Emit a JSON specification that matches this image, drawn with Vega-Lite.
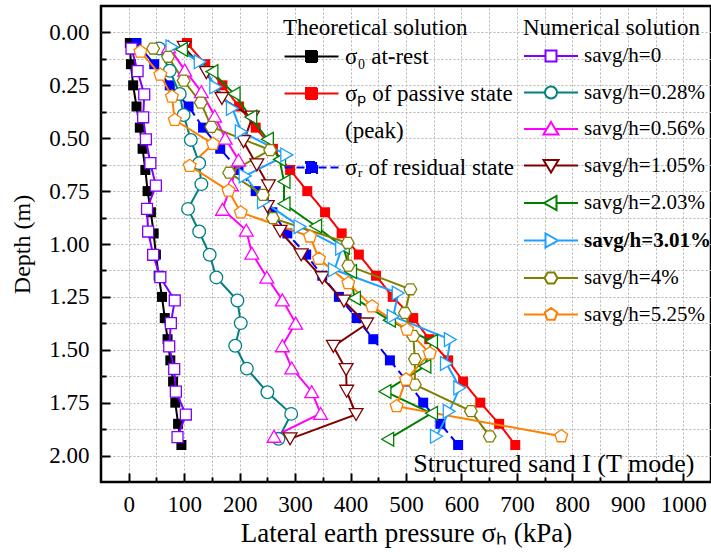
{
  "$schema": "https://vega.github.io/schema/vega-lite/v6.json",
  "width": 610,
  "height": 476,
  "autosize": {"type": "none"},
  "padding": {"left": 101, "top": 6, "right": 0, "bottom": 76},
  "background": "white",
  "config": {
    "font": "Liberation Serif, Times New Roman, serif",
    "view": {"stroke": "black", "strokeWidth": 2.5},
    "axis": {
      "domain": false,
      "grid": true,
      "gridColor": "#b4b4b4",
      "gridDash": [2, 2],
      "gridWidth": 1,
      "tickColor": "black",
      "tickWidth": 2,
      "labelFont": "Liberation Serif, Times New Roman, serif",
      "labelFontSize": 23,
      "labelColor": "black",
      "titleFont": "Liberation Serif, Times New Roman, serif",
      "titleFontSize": 24,
      "titleFontWeight": "normal",
      "titleColor": "black"
    },
    "legend": {
      "orient": "none",
      "titleFont": "Liberation Serif, Times New Roman, serif",
      "titleFontSize": 23,
      "titleFontWeight": "normal",
      "titleColor": "black",
      "titlePadding": 5,
      "titleLimit": 400,
      "labelFont": "Liberation Serif, Times New Roman, serif",
      "labelFontSize": 23,
      "labelColor": "black",
      "labelLimit": 400,
      "symbolSize": 400,
      "symbolOffset": 17,
      "labelOffset": 22,
      "rowPadding": 13,
      "padding": 0
    },
    "point": {"filled": false, "fill": "#ffffff", "fillOpacity": 1, "size": 150, "strokeWidth": 1.3, "opacity": 1}
  },
  "datasets": {
    "theo": [
      {"series": "σ₀ at-rest", "depth": 0.05, "pressure": 2},
      {"series": "σ₀ at-rest", "depth": 0.15, "pressure": 4},
      {"series": "σ₀ at-rest", "depth": 0.25, "pressure": 8},
      {"series": "σ₀ at-rest", "depth": 0.35, "pressure": 14},
      {"series": "σ₀ at-rest", "depth": 0.45, "pressure": 20},
      {"series": "σ₀ at-rest", "depth": 0.55, "pressure": 25},
      {"series": "σ₀ at-rest", "depth": 0.65, "pressure": 30},
      {"series": "σ₀ at-rest", "depth": 0.75, "pressure": 34},
      {"series": "σ₀ at-rest", "depth": 0.85, "pressure": 40},
      {"series": "σ₀ at-rest", "depth": 0.95, "pressure": 45},
      {"series": "σ₀ at-rest", "depth": 1.05, "pressure": 49},
      {"series": "σ₀ at-rest", "depth": 1.15, "pressure": 54},
      {"series": "σ₀ at-rest", "depth": 1.25, "pressure": 60},
      {"series": "σ₀ at-rest", "depth": 1.35, "pressure": 65},
      {"series": "σ₀ at-rest", "depth": 1.45, "pressure": 70},
      {"series": "σ₀ at-rest", "depth": 1.55, "pressure": 75},
      {"series": "σ₀ at-rest", "depth": 1.65, "pressure": 80},
      {"series": "σ₀ at-rest", "depth": 1.75, "pressure": 84},
      {"series": "σ₀ at-rest", "depth": 1.85, "pressure": 89},
      {"series": "σ₀ at-rest", "depth": 1.95, "pressure": 95},
      {"series": "σₚ of passive state", "depth": 0.05, "pressure": 105},
      {"series": "σₚ of passive state", "depth": 0.15, "pressure": 138},
      {"series": "σₚ of passive state", "depth": 0.25, "pressure": 169},
      {"series": "σₚ of passive state", "depth": 0.35, "pressure": 199},
      {"series": "σₚ of passive state", "depth": 0.45, "pressure": 229},
      {"series": "σₚ of passive state", "depth": 0.55, "pressure": 260},
      {"series": "σₚ of passive state", "depth": 0.65, "pressure": 291},
      {"series": "σₚ of passive state", "depth": 0.75, "pressure": 322},
      {"series": "σₚ of passive state", "depth": 0.85, "pressure": 354},
      {"series": "σₚ of passive state", "depth": 0.95, "pressure": 384},
      {"series": "σₚ of passive state", "depth": 1.05, "pressure": 415},
      {"series": "σₚ of passive state", "depth": 1.15, "pressure": 446},
      {"series": "σₚ of passive state", "depth": 1.25, "pressure": 476},
      {"series": "σₚ of passive state", "depth": 1.35, "pressure": 513},
      {"series": "σₚ of passive state", "depth": 1.45, "pressure": 542},
      {"series": "σₚ of passive state", "depth": 1.55, "pressure": 576},
      {"series": "σₚ of passive state", "depth": 1.65, "pressure": 603},
      {"series": "σₚ of passive state", "depth": 1.75, "pressure": 634},
      {"series": "σₚ of passive state", "depth": 1.85, "pressure": 668},
      {"series": "σₚ of passive state", "depth": 1.95, "pressure": 697},
      {"series": "σᵣ of residual state", "depth": 0.05, "pressure": 14},
      {"series": "σᵣ of residual state", "depth": 0.15, "pressure": 46},
      {"series": "σᵣ of residual state", "depth": 0.25, "pressure": 74},
      {"series": "σᵣ of residual state", "depth": 0.35, "pressure": 108},
      {"series": "σᵣ of residual state", "depth": 0.45, "pressure": 134},
      {"series": "σᵣ of residual state", "depth": 0.55, "pressure": 165},
      {"series": "σᵣ of residual state", "depth": 0.65, "pressure": 198},
      {"series": "σᵣ of residual state", "depth": 0.75, "pressure": 229},
      {"series": "σᵣ of residual state", "depth": 0.85, "pressure": 259},
      {"series": "σᵣ of residual state", "depth": 0.95, "pressure": 286},
      {"series": "σᵣ of residual state", "depth": 1.05, "pressure": 320},
      {"series": "σᵣ of residual state", "depth": 1.15, "pressure": 349},
      {"series": "σᵣ of residual state", "depth": 1.25, "pressure": 379},
      {"series": "σᵣ of residual state", "depth": 1.35, "pressure": 411},
      {"series": "σᵣ of residual state", "depth": 1.45, "pressure": 441},
      {"series": "σᵣ of residual state", "depth": 1.55, "pressure": 471},
      {"series": "σᵣ of residual state", "depth": 1.65, "pressure": 502},
      {"series": "σᵣ of residual state", "depth": 1.75, "pressure": 531},
      {"series": "σᵣ of residual state", "depth": 1.85, "pressure": 562},
      {"series": "σᵣ of residual state", "depth": 1.95, "pressure": 594}
    ],
    "num": [
      {"series": "savg/h=0", "depth": 0.076, "pressure": 5},
      {"series": "savg/h=0", "depth": 0.183, "pressure": 16},
      {"series": "savg/h=0", "depth": 0.293, "pressure": 28},
      {"series": "savg/h=0", "depth": 0.401, "pressure": 26},
      {"series": "savg/h=0", "depth": 0.505, "pressure": 31},
      {"series": "savg/h=0", "depth": 0.618, "pressure": 39},
      {"series": "savg/h=0", "depth": 0.724, "pressure": 49},
      {"series": "savg/h=0", "depth": 0.834, "pressure": 33},
      {"series": "savg/h=0", "depth": 0.941, "pressure": 35},
      {"series": "savg/h=0", "depth": 1.051, "pressure": 44},
      {"series": "savg/h=0", "depth": 1.157, "pressure": 57},
      {"series": "savg/h=0", "depth": 1.267, "pressure": 83},
      {"series": "savg/h=0", "depth": 1.374, "pressure": 76},
      {"series": "savg/h=0", "depth": 1.484, "pressure": 73},
      {"series": "savg/h=0", "depth": 1.591, "pressure": 82},
      {"series": "savg/h=0", "depth": 1.698, "pressure": 85},
      {"series": "savg/h=0", "depth": 1.806, "pressure": 103},
      {"series": "savg/h=0", "depth": 1.913, "pressure": 88},
      {"series": "savg/h=0.28%", "depth": 0.076, "pressure": 55},
      {"series": "savg/h=0.28%", "depth": 0.181, "pressure": 74},
      {"series": "savg/h=0.28%", "depth": 0.291, "pressure": 92},
      {"series": "savg/h=0.28%", "depth": 0.39, "pressure": 99},
      {"series": "savg/h=0.28%", "depth": 0.508, "pressure": 112},
      {"series": "savg/h=0.28%", "depth": 0.618, "pressure": 127},
      {"series": "savg/h=0.28%", "depth": 0.717, "pressure": 131},
      {"series": "savg/h=0.28%", "depth": 0.834, "pressure": 107},
      {"series": "savg/h=0.28%", "depth": 0.941, "pressure": 127},
      {"series": "savg/h=0.28%", "depth": 1.051, "pressure": 146},
      {"series": "savg/h=0.28%", "depth": 1.158, "pressure": 158},
      {"series": "savg/h=0.28%", "depth": 1.267, "pressure": 196},
      {"series": "savg/h=0.28%", "depth": 1.374, "pressure": 202},
      {"series": "savg/h=0.28%", "depth": 1.481, "pressure": 192},
      {"series": "savg/h=0.28%", "depth": 1.589, "pressure": 213},
      {"series": "savg/h=0.28%", "depth": 1.701, "pressure": 250},
      {"series": "savg/h=0.28%", "depth": 1.803, "pressure": 293},
      {"series": "savg/h=0.28%", "depth": 1.921, "pressure": 270},
      {"series": "savg/h=0.56%", "depth": 0.068, "pressure": 72},
      {"series": "savg/h=0.56%", "depth": 0.178, "pressure": 101},
      {"series": "savg/h=0.56%", "depth": 0.28, "pressure": 131},
      {"series": "savg/h=0.56%", "depth": 0.395, "pressure": 155},
      {"series": "savg/h=0.56%", "depth": 0.5, "pressure": 174},
      {"series": "savg/h=0.56%", "depth": 0.603, "pressure": 198},
      {"series": "savg/h=0.56%", "depth": 0.72, "pressure": 185},
      {"series": "savg/h=0.56%", "depth": 0.836, "pressure": 169},
      {"series": "savg/h=0.56%", "depth": 0.935, "pressure": 212},
      {"series": "savg/h=0.56%", "depth": 1.043, "pressure": 222},
      {"series": "savg/h=0.56%", "depth": 1.157, "pressure": 249},
      {"series": "savg/h=0.56%", "depth": 1.264, "pressure": 277},
      {"series": "savg/h=0.56%", "depth": 1.374, "pressure": 301},
      {"series": "savg/h=0.56%", "depth": 1.481, "pressure": 277},
      {"series": "savg/h=0.56%", "depth": 1.586, "pressure": 294},
      {"series": "savg/h=0.56%", "depth": 1.698, "pressure": 330},
      {"series": "savg/h=0.56%", "depth": 1.801, "pressure": 346},
      {"series": "savg/h=0.56%", "depth": 1.909, "pressure": 262},
      {"series": "savg/h=1.05%", "depth": 0.07, "pressure": 100},
      {"series": "savg/h=1.05%", "depth": 0.19, "pressure": 140},
      {"series": "savg/h=1.05%", "depth": 0.312, "pressure": 168},
      {"series": "savg/h=1.05%", "depth": 0.4, "pressure": 223},
      {"series": "savg/h=1.05%", "depth": 0.516, "pressure": 207},
      {"series": "savg/h=1.05%", "depth": 0.626, "pressure": 231},
      {"series": "savg/h=1.05%", "depth": 0.725, "pressure": 252},
      {"series": "savg/h=1.05%", "depth": 0.823, "pressure": 250},
      {"series": "savg/h=1.05%", "depth": 0.94, "pressure": 273},
      {"series": "savg/h=1.05%", "depth": 1.051, "pressure": 311},
      {"series": "savg/h=1.05%", "depth": 1.16, "pressure": 349},
      {"series": "savg/h=1.05%", "depth": 1.27, "pressure": 388},
      {"series": "savg/h=1.05%", "depth": 1.378, "pressure": 429},
      {"series": "savg/h=1.05%", "depth": 1.484, "pressure": 369},
      {"series": "savg/h=1.05%", "depth": 1.594, "pressure": 392},
      {"series": "savg/h=1.05%", "depth": 1.696, "pressure": 393},
      {"series": "savg/h=1.05%", "depth": 1.806, "pressure": 410},
      {"series": "savg/h=1.05%", "depth": 1.921, "pressure": 291},
      {"series": "savg/h=2.03%", "depth": 0.08, "pressure": 95},
      {"series": "savg/h=2.03%", "depth": 0.185, "pressure": 150},
      {"series": "savg/h=2.03%", "depth": 0.29, "pressure": 190},
      {"series": "savg/h=2.03%", "depth": 0.4, "pressure": 220},
      {"series": "savg/h=2.03%", "depth": 0.505, "pressure": 250},
      {"series": "savg/h=2.03%", "depth": 0.6, "pressure": 272},
      {"series": "savg/h=2.03%", "depth": 0.705, "pressure": 280},
      {"series": "savg/h=2.03%", "depth": 0.81, "pressure": 280},
      {"series": "savg/h=2.03%", "depth": 0.915, "pressure": 337},
      {"series": "savg/h=2.03%", "depth": 1.015, "pressure": 387},
      {"series": "savg/h=2.03%", "depth": 1.13, "pressure": 400},
      {"series": "savg/h=2.03%", "depth": 1.256, "pressure": 407},
      {"series": "savg/h=2.03%", "depth": 1.36, "pressure": 470},
      {"series": "savg/h=2.03%", "depth": 1.46, "pressure": 546},
      {"series": "savg/h=2.03%", "depth": 1.578, "pressure": 534},
      {"series": "savg/h=2.03%", "depth": 1.697, "pressure": 462},
      {"series": "savg/h=2.03%", "depth": 1.8, "pressure": 546},
      {"series": "savg/h=2.03%", "depth": 1.923, "pressure": 467},
      {"series": "savg/h=3.01%", "depth": 0.068, "pressure": 78},
      {"series": "savg/h=3.01%", "depth": 0.139, "pressure": 129},
      {"series": "savg/h=3.01%", "depth": 0.257, "pressure": 157},
      {"series": "savg/h=3.01%", "depth": 0.359, "pressure": 187},
      {"series": "savg/h=3.01%", "depth": 0.469, "pressure": 203},
      {"series": "savg/h=3.01%", "depth": 0.579, "pressure": 285},
      {"series": "savg/h=3.01%", "depth": 0.678, "pressure": 210},
      {"series": "savg/h=3.01%", "depth": 0.8, "pressure": 243},
      {"series": "savg/h=3.01%", "depth": 0.918, "pressure": 309},
      {"series": "savg/h=3.01%", "depth": 1.02, "pressure": 384},
      {"series": "savg/h=3.01%", "depth": 1.122, "pressure": 371},
      {"series": "savg/h=3.01%", "depth": 1.232, "pressure": 486},
      {"series": "savg/h=3.01%", "depth": 1.342, "pressure": 477},
      {"series": "savg/h=3.01%", "depth": 1.452, "pressure": 580},
      {"series": "savg/h=3.01%", "depth": 1.565, "pressure": 573},
      {"series": "savg/h=3.01%", "depth": 1.68, "pressure": 597},
      {"series": "savg/h=3.01%", "depth": 1.791, "pressure": 578},
      {"series": "savg/h=3.01%", "depth": 1.909, "pressure": 555},
      {"series": "savg/h=4%", "depth": 0.076, "pressure": 44},
      {"series": "savg/h=4%", "depth": 0.115, "pressure": 71},
      {"series": "savg/h=4%", "depth": 0.228, "pressure": 99},
      {"series": "savg/h=4%", "depth": 0.332, "pressure": 130},
      {"series": "savg/h=4%", "depth": 0.446, "pressure": 149},
      {"series": "savg/h=4%", "depth": 0.556, "pressure": 255},
      {"series": "savg/h=4%", "depth": 0.663, "pressure": 181},
      {"series": "savg/h=4%", "depth": 0.768, "pressure": 242},
      {"series": "savg/h=4%", "depth": 0.878, "pressure": 260},
      {"series": "savg/h=4%", "depth": 0.995, "pressure": 395},
      {"series": "savg/h=4%", "depth": 1.102, "pressure": 396},
      {"series": "savg/h=4%", "depth": 1.214, "pressure": 508},
      {"series": "savg/h=4%", "depth": 1.326, "pressure": 498},
      {"series": "savg/h=4%", "depth": 1.434, "pressure": 513},
      {"series": "savg/h=4%", "depth": 1.544, "pressure": 516},
      {"series": "savg/h=4%", "depth": 1.665, "pressure": 516},
      {"series": "savg/h=4%", "depth": 1.79, "pressure": 617},
      {"series": "savg/h=4%", "depth": 1.909, "pressure": 651},
      {"series": "savg/h=5.25%", "depth": 0.091, "pressure": 21},
      {"series": "savg/h=5.25%", "depth": 0.2, "pressure": 57},
      {"series": "savg/h=5.25%", "depth": 0.304, "pressure": 78},
      {"series": "savg/h=5.25%", "depth": 0.414, "pressure": 83},
      {"series": "savg/h=5.25%", "depth": 0.527, "pressure": 152},
      {"series": "savg/h=5.25%", "depth": 0.631, "pressure": 110},
      {"series": "savg/h=5.25%", "depth": 0.748, "pressure": 180},
      {"series": "savg/h=5.25%", "depth": 0.851, "pressure": 202},
      {"series": "savg/h=5.25%", "depth": 0.965, "pressure": 327},
      {"series": "savg/h=5.25%", "depth": 1.07, "pressure": 343},
      {"series": "savg/h=5.25%", "depth": 1.185, "pressure": 396},
      {"series": "savg/h=5.25%", "depth": 1.295, "pressure": 439},
      {"series": "savg/h=5.25%", "depth": 1.405, "pressure": 502},
      {"series": "savg/h=5.25%", "depth": 1.517, "pressure": 543},
      {"series": "savg/h=5.25%", "depth": 1.641, "pressure": 500},
      {"series": "savg/h=5.25%", "depth": 1.767, "pressure": 483},
      {"series": "savg/h=5.25%", "depth": 1.909, "pressure": 780}
    ]
  },
  "encoding": {
    "x": {
      "field": "pressure",
      "type": "quantitative",
      "scale": {"domain": [-50, 1050], "nice": false, "zero": false},
      "axis": {
        "title": "Lateral earth pressure σₕ (kPa)",
        "titleFontSize": 27,
        "values": [0, 50, 100, 150, 200, 250, 300, 350, 400, 450, 500, 550, 600, 650, 700, 750, 800, 850, 900, 950, 1000],
        "format": "d",
        "labelExpr": "datum.value % 100 === 0 ? datum.label : ''",
        "tickSize": {"condition": {"test": "datum.value % 100 === 0", "value": -9}, "value": -5},
        "labelPadding": 20,
        "titlePadding": 4
      }
    },
    "y": {
      "field": "depth",
      "type": "quantitative",
      "scale": {"domain": [-0.125, 2.125], "reverse": true, "nice": false, "zero": false},
      "axis": {
        "title": "Depth (m)",
        "values": [0, 0.125, 0.25, 0.375, 0.5, 0.625, 0.75, 0.875, 1, 1.125, 1.25, 1.375, 1.5, 1.625, 1.75, 1.875, 2],
        "format": ".2f",
        "labelExpr": "abs(datum.value * 4 - round(datum.value * 4)) < 0.001 ? datum.label : ''",
        "tickSize": {"condition": {"test": "abs(datum.value * 4 - round(datum.value * 4)) < 0.001", "value": -9}, "value": -5},
        "labelPadding": 21,
        "titlePadding": 14
      }
    }
  },
  "layer": [
    {
      "data": {"name": "theo"},
      "encoding": {
        "color": {
          "field": "series",
          "type": "nominal",
          "scale": {
            "domain": ["σ₀ at-rest", "σₚ of passive state", "(peak)", "σᵣ of residual state"],
            "range": ["#000000", "#ff0000", "#ffffff", "#0000ff"]
          },
          "legend": {
            "title": "Theoretical solution",
            "legendX": 182,
            "legendY": 11,
            "encode": {
              "symbols": {
                "update": {
                  "shape": {"signal": "['M-2.7,0H2.7M-0.55,-0.55H0.55V0.55H-0.55Z','M-2.7,0H2.7M-0.55,-0.55H0.55V0.55H-0.55Z','M0,0','M-2.7,0H-1.9M-1.5,0H-0.7M0.7,0H1.5M1.9,0H2.7M-0.55,-0.55H0.55V0.55H-0.55Z'][indexof(['σ₀ at-rest','σₚ of passive state','(peak)','σᵣ of residual state'], datum.value)]"},
                  "fill": {"signal": "['#000000','#ff0000','#ffffff','#0000ff'][indexof(['σ₀ at-rest','σₚ of passive state','(peak)','σᵣ of residual state'], datum.value)]"},
                  "stroke": {"signal": "['#000000','#ff0000','#ffffff','#0000ff'][indexof(['σ₀ at-rest','σₚ of passive state','(peak)','σᵣ of residual state'], datum.value)]"},
                  "strokeWidth": {"value": 2},
                  "strokeDash": {"value": []},
                  "size": {"value": 400},
                  "opacity": {"signal": "datum.value === '(peak)' ? 0 : 1"},
                  "fillOpacity": {"value": 1},
                  "strokeOpacity": {"value": 1}
                }
              }
            }
          }
        }
      },
      "layer": [
        {
          "mark": {"type": "line", "strokeWidth": 2},
          "encoding": {
            "order": {"field": "depth", "type": "quantitative"},
            "strokeDash": {
              "field": "series",
              "type": "nominal",
              "scale": {
                "domain": ["σ₀ at-rest", "σₚ of passive state", "(peak)", "σᵣ of residual state"],
                "range": [[1, 0], [1, 0], [1, 0], [9, 5]]
              },
              "legend": null
            }
          }
        },
        {
          "mark": {"type": "point", "shape": "square", "filled": true, "size": 100, "opacity": 1}
        }
      ]
    },
    {
      "data": {"name": "num"},
      "encoding": {
        "color": {
          "field": "series",
          "type": "nominal",
          "scale": {
            "domain": ["savg/h=0", "savg/h=0.28%", "savg/h=0.56%", "savg/h=1.05%", "savg/h=2.03%", "savg/h=3.01%", "savg/h=4%", "savg/h=5.25%"],
            "range": ["#8000ff", "#008080", "#ff00ff", "#800000", "#008000", "#1ea0ff", "#808000", "#ff8000"]
          },
          "legend": {
            "title": "Numerical solution",
            "legendX": 422,
            "legendY": 11,
            "labelFontSize": 21,
            "rowPadding": 15.5,
            "encode": {
              "symbols": {
                "update": {
                  "shape": {"signal": "['M-2.7,0H-0.55M0.55,0H2.7M-0.55,-0.55H0.55V0.55H-0.55Z','M-2.7,0H-0.6M0.6,0H2.7M-0.6,0A0.6,0.6,0,1,1,0.6,0A0.6,0.6,0,1,1,-0.6,0Z','M-2.7,0H-0.42M0.42,0H2.7M0,-0.7L0.75,0.55L-0.75,0.55Z','M-2.7,0H-0.42M0.42,0H2.7M0,0.7L0.75,-0.55L-0.75,-0.55Z','M-2.7,0H-0.7M0.55,0H2.7M-0.7,0L0.55,-0.7L0.55,0.7Z','M-2.7,0H-0.55M0.7,0H2.7M0.7,0L-0.55,-0.7L-0.55,0.7Z','M-2.7,0H-0.65M0.65,0H2.7M-0.65,0L-0.33,-0.56L0.33,-0.56L0.65,0L0.33,0.56L-0.33,0.56Z','M-2.7,0H-0.56M0.56,0H2.7M0,-0.65L0.62,-0.2L0.38,0.53L-0.38,0.53L-0.62,-0.2Z'][indexof(['savg/h=0','savg/h=0.28%','savg/h=0.56%','savg/h=1.05%','savg/h=2.03%','savg/h=3.01%','savg/h=4%','savg/h=5.25%'], datum.value)]"},
                  "fill": {"value": "#ffffff"},
                  "stroke": {"signal": "['#8000ff','#008080','#ff00ff','#800000','#008000','#1ea0ff','#808000','#ff8000'][indexof(['savg/h=0','savg/h=0.28%','savg/h=0.56%','savg/h=1.05%','savg/h=2.03%','savg/h=3.01%','savg/h=4%','savg/h=5.25%'], datum.value)]"},
                  "strokeWidth": {"value": 2},
                  "size": {"value": 400},
                  "opacity": {"value": 1},
                  "fillOpacity": {"value": 1},
                  "strokeOpacity": {"value": 1}
                }
              },
              "labels": {
                "update": {
                  "fontWeight": {"signal": "datum.value === 'savg/h=3.01%' ? 'bold' : 'normal'"}
                }
              }
            }
          }
        }
      },
      "layer": [
        {
          "mark": {"type": "line", "strokeWidth": 2},
          "encoding": {"order": {"field": "depth", "type": "quantitative"}}
        },
        {"transform": [{"filter": "datum.series === 'savg/h=0'"}], "mark": {"type": "point", "shape": "square", "size": 120}},
        {"transform": [{"filter": "datum.series === 'savg/h=0.28%'"}], "mark": {"type": "point", "shape": "circle", "size": 160}},
        {"transform": [{"filter": "datum.series === 'savg/h=0.56%'"}], "mark": {"type": "point", "shape": "triangle-up", "size": 190}},
        {"transform": [{"filter": "datum.series === 'savg/h=1.05%'"}], "mark": {"type": "point", "shape": "triangle-down", "size": 190}},
        {"transform": [{"filter": "datum.series === 'savg/h=2.03%'"}], "mark": {"type": "point", "shape": "triangle-left", "size": 190}},
        {"transform": [{"filter": "datum.series === 'savg/h=3.01%'"}], "mark": {"type": "point", "shape": "triangle-right", "size": 190}},
        {"transform": [{"filter": "datum.series === 'savg/h=4%'"}], "mark": {"type": "point", "shape": "M-1,0L-0.5,-0.866L0.5,-0.866L1,0L0.5,0.866L-0.5,0.866Z", "size": 160}},
        {"transform": [{"filter": "datum.series === 'savg/h=5.25%'"}], "mark": {"type": "point", "shape": "M0,-1L0.951,-0.309L0.588,0.809L-0.588,0.809L-0.951,-0.309Z", "size": 180}}
      ]
    },
    {
      "data": {"values": [{"note": "Structured sand I (T mode)"}]},
      "mark": {"type": "text", "align": "right", "baseline": "alphabetic", "fontSize": 26, "fill": "#000000", "invalid": null},
      "encoding": {
        "x": {"value": {"expr": "scale('x', 1020)"}},
        "y": {"value": {"expr": "scale('y', 2.08)"}},
        "text": {"field": "note", "type": "nominal"}
      }
    }
  ],
  "resolve": {"scale": {"color": "independent", "strokeDash": "independent"}}
}
